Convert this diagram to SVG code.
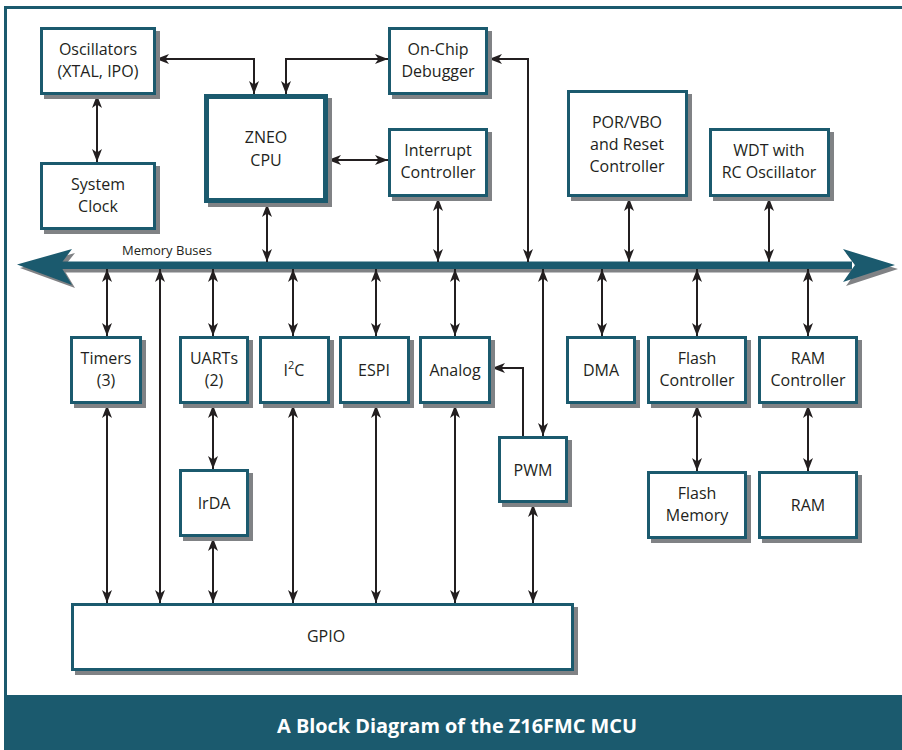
<svg xmlns="http://www.w3.org/2000/svg" width="902" height="750" viewBox="0 0 902 750">
<defs>
<style>
.box{fill:#fff;stroke:#1b5a6e;stroke-width:3}
.cpu{fill:#fff;stroke:#1b5a6e;stroke-width:5}
.sh{fill:#808285}
.t{font-family:"Open Sans","Noto Sans",sans-serif;font-size:16px;fill:#231f20;text-anchor:middle}
.c{fill:none;stroke:#231f20;stroke-width:2}
</style>
<marker id="ah" viewBox="0 0 13 10" refX="13" refY="5" markerWidth="13" markerHeight="10" markerUnits="userSpaceOnUse" orient="auto-start-reverse">
<path d="M0,0 L13,5 L0,10 L3.5,5 Z" fill="#231f20"/>
</marker>
</defs>
<rect x="0" y="0" width="902" height="750" fill="#fff"/>
<rect x="4" y="6" width="898" height="3" fill="#1b5a6e"/>
<rect x="4" y="6" width="3" height="700" fill="#1b5a6e"/>
<g id="title">
<rect x="4" y="695" width="898" height="55" fill="#1b5a6e"/>
<text x="457" y="733" font-family="'Open Sans','Noto Sans',sans-serif" font-size="20" font-weight="bold" fill="#fff" text-anchor="middle" textLength="360" lengthAdjust="spacingAndGlyphs">A Block Diagram of the Z16FMC MCU</text>
</g>
<g id="bus">
<rect x="62" y="265" width="790" height="7.5" fill="#808285"/>
<path d="M898,269 L846,253 L858,269 L846,286 Z" fill="#808285"/>
<path d="M20,268 L75,253 L63,268 L75,288 Z" fill="#808285"/>
<rect x="60" y="261.5" width="792" height="7.5" fill="#1b5a6e"/>
<path d="M895,265 L843,249 L855,265 L843,282 Z" fill="#1b5a6e"/>
<path d="M17,264.5 L72,249 L60,265 L72,285 Z" fill="#1b5a6e"/>
<text x="167" y="255" font-family="'Open Sans','Noto Sans',sans-serif" font-size="13" fill="#231f20" text-anchor="middle">Memory Buses</text>
</g>
<g id="connectors">
<path class="c" d="M156,59 H254 V94" marker-start="url(#ah)" marker-end="url(#ah)"/>
<path class="c" d="M388,59 H286 V94" marker-start="url(#ah)" marker-end="url(#ah)"/>
<path class="c" d="M97,95 V162" marker-start="url(#ah)" marker-end="url(#ah)"/>
<path class="c" d="M328,160 H388" marker-start="url(#ah)" marker-end="url(#ah)"/>
<path class="c" d="M267,204 V262" marker-start="url(#ah)" marker-end="url(#ah)"/>
<path class="c" d="M438,198 V262" marker-start="url(#ah)" marker-end="url(#ah)"/>
<path class="c" d="M489,59 H528 V262" marker-start="url(#ah)" marker-end="url(#ah)"/>
<path class="c" d="M629,198 V262" marker-start="url(#ah)" marker-end="url(#ah)"/>
<path class="c" d="M769,198 V262" marker-start="url(#ah)" marker-end="url(#ah)"/>
<path class="c" d="M107,269 V336" marker-start="url(#ah)" marker-end="url(#ah)"/>
<path class="c" d="M213,269 V336" marker-start="url(#ah)" marker-end="url(#ah)"/>
<path class="c" d="M293,269 V336" marker-start="url(#ah)" marker-end="url(#ah)"/>
<path class="c" d="M376,269 V336" marker-start="url(#ah)" marker-end="url(#ah)"/>
<path class="c" d="M455,269 V336" marker-start="url(#ah)" marker-end="url(#ah)"/>
<path class="c" d="M602,269 V336" marker-start="url(#ah)" marker-end="url(#ah)"/>
<path class="c" d="M697,269 V336" marker-start="url(#ah)" marker-end="url(#ah)"/>
<path class="c" d="M808,269 V336" marker-start="url(#ah)" marker-end="url(#ah)"/>
<path class="c" d="M160,269 V603" marker-start="url(#ah)" marker-end="url(#ah)"/>
<path class="c" d="M543,269 V436" marker-start="url(#ah)" marker-end="url(#ah)"/>
<path class="c" d="M523,436 V368 H492" marker-end="url(#ah)"/>
<path class="c" d="M107,405 V603" marker-start="url(#ah)" marker-end="url(#ah)"/>
<path class="c" d="M213,405 V469" marker-start="url(#ah)" marker-end="url(#ah)"/>
<path class="c" d="M213,538 V603" marker-start="url(#ah)" marker-end="url(#ah)"/>
<path class="c" d="M293,405 V603" marker-start="url(#ah)" marker-end="url(#ah)"/>
<path class="c" d="M376,405 V603" marker-start="url(#ah)" marker-end="url(#ah)"/>
<path class="c" d="M455,405 V603" marker-start="url(#ah)" marker-end="url(#ah)"/>
<path class="c" d="M533,504 V603" marker-start="url(#ah)" marker-end="url(#ah)"/>
<path class="c" d="M697,405 V471" marker-start="url(#ah)" marker-end="url(#ah)"/>
<path class="c" d="M808,405 V471" marker-start="url(#ah)" marker-end="url(#ah)"/>
</g>
<g id="oscillators">
<rect class="sh" x="44" y="31" width="116" height="68"/>
<rect class="box" x="41.5" y="28.5" width="113" height="65"/>
<text class="t" x="98" y="55">Oscillators</text>
<text class="t" x="98" y="77">(XTAL, IPO)</text>
</g>
<g id="system-clock">
<rect class="sh" x="44" y="166" width="116" height="68"/>
<rect class="box" x="41.5" y="163.5" width="113" height="65"/>
<text class="t" x="98" y="190">System</text>
<text class="t" x="98" y="212">Clock</text>
</g>
<g id="zneo-cpu">
<rect class="sh" x="208" y="98" width="124" height="109"/>
<rect class="cpu" x="206.5" y="96.5" width="119" height="104"/>
<text class="t" x="266" y="143">ZNEO</text>
<text class="t" x="266" y="166">CPU</text>
</g>
<g id="on-chip-debugger">
<rect class="sh" x="392" y="31" width="100" height="68"/>
<rect class="box" x="389.5" y="28.5" width="97" height="65"/>
<text class="t" x="438" y="55">On-Chip</text>
<text class="t" x="438" y="77">Debugger</text>
</g>
<g id="interrupt-controller">
<rect class="sh" x="392" y="132" width="100" height="69"/>
<rect class="box" x="389.5" y="129.5" width="97" height="66"/>
<text class="t" x="438" y="156">Interrupt</text>
<text class="t" x="438" y="178">Controller</text>
</g>
<g id="por-vbo">
<rect class="sh" x="571" y="94" width="121" height="107"/>
<rect class="box" x="568.5" y="91.5" width="118" height="104"/>
<text class="t" x="627" y="128">POR/VBO</text>
<text class="t" x="627" y="150">and Reset</text>
<text class="t" x="627" y="172">Controller</text>
</g>
<g id="wdt">
<rect class="sh" x="713" y="132" width="121" height="69"/>
<rect class="box" x="710.5" y="129.5" width="118" height="66"/>
<text class="t" x="769" y="156">WDT with</text>
<text class="t" x="769" y="178">RC Oscillator</text>
</g>
<g id="timers">
<rect class="sh" x="74" y="340" width="72" height="68"/>
<rect class="box" x="71.5" y="337.5" width="69" height="65"/>
<text class="t" x="106" y="364">Timers</text>
<text class="t" x="106" y="386">(3)</text>
</g>
<g id="uarts">
<rect class="sh" x="183" y="340" width="70" height="68"/>
<rect class="box" x="180.5" y="337.5" width="67" height="65"/>
<text class="t" x="214" y="364">UARTs</text>
<text class="t" x="214" y="386">(2)</text>
</g>
<g id="i2c">
<rect class="sh" x="263" y="340" width="71" height="68"/>
<rect class="box" x="260.5" y="337.5" width="68" height="65"/>
<text class="t" x="294" y="376">I<tspan font-size="11" dy="-7">2</tspan><tspan dy="7">C</tspan></text>
</g>
<g id="espi">
<rect class="sh" x="343" y="340" width="71" height="68"/>
<rect class="box" x="340.5" y="337.5" width="68" height="65"/>
<text class="t" x="374" y="376">ESPI</text>
</g>
<g id="analog">
<rect class="sh" x="423" y="340" width="72" height="68"/>
<rect class="box" x="420.5" y="337.5" width="69" height="65"/>
<text class="t" x="455" y="376">Analog</text>
</g>
<g id="dma">
<rect class="sh" x="570" y="340" width="70" height="68"/>
<rect class="box" x="567.5" y="337.5" width="67" height="65"/>
<text class="t" x="601" y="376">DMA</text>
</g>
<g id="flash-controller">
<rect class="sh" x="651" y="340" width="100" height="68"/>
<rect class="box" x="648.5" y="337.5" width="97" height="65"/>
<text class="t" x="697" y="364">Flash</text>
<text class="t" x="697" y="386">Controller</text>
</g>
<g id="ram-controller">
<rect class="sh" x="762" y="340" width="100" height="68"/>
<rect class="box" x="759.5" y="337.5" width="97" height="65"/>
<text class="t" x="808" y="364">RAM</text>
<text class="t" x="808" y="386">Controller</text>
</g>
<g id="irda">
<rect class="sh" x="183" y="473" width="70" height="68"/>
<rect class="box" x="180.5" y="470.5" width="67" height="65"/>
<text class="t" x="214" y="509">IrDA</text>
</g>
<g id="pwm">
<rect class="sh" x="502" y="440" width="70" height="67"/>
<rect class="box" x="499.5" y="437.5" width="67" height="64"/>
<text class="t" x="533" y="476">PWM</text>
</g>
<g id="flash-memory">
<rect class="sh" x="651" y="475" width="100" height="68"/>
<rect class="box" x="648.5" y="472.5" width="97" height="65"/>
<text class="t" x="697" y="499">Flash</text>
<text class="t" x="697" y="521">Memory</text>
</g>
<g id="ram">
<rect class="sh" x="762" y="475" width="100" height="68"/>
<rect class="box" x="759.5" y="472.5" width="97" height="65"/>
<text class="t" x="808" y="511">RAM</text>
</g>
<g id="gpio">
<rect class="sh" x="75" y="607" width="503" height="68"/>
<rect class="box" x="72.5" y="604.5" width="500" height="65"/>
<text class="t" x="326" y="642">GPIO</text>
</g>
</svg>
